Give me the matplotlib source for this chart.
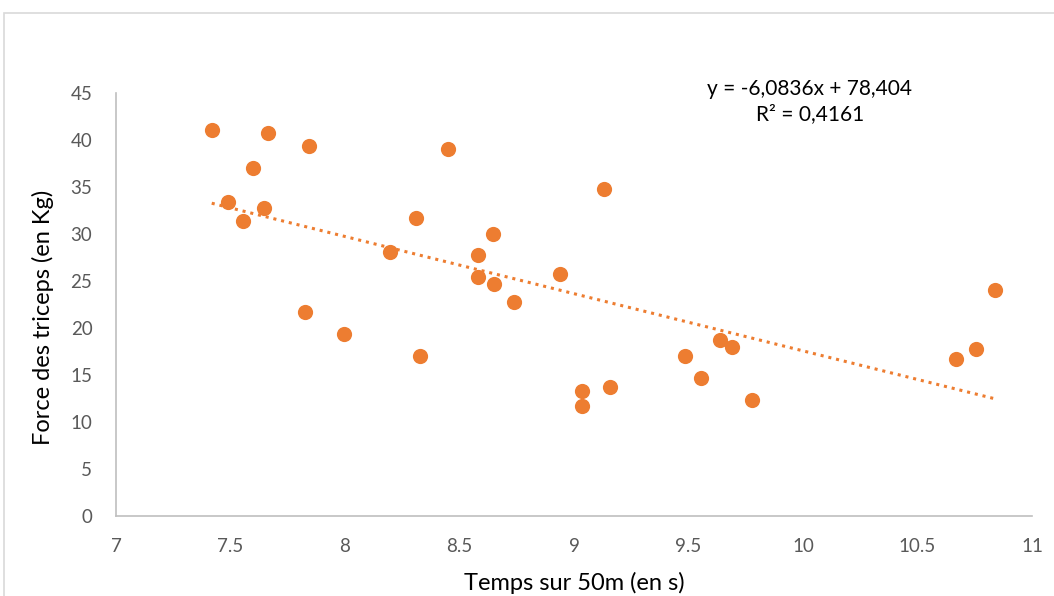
import numpy as np
import matplotlib
matplotlib.use("Agg")
import matplotlib.pyplot as plt
from matplotlib.patches import Rectangle

#Temps sur 50m (s) and force des triceps (kg)
temps = [7.418, 7.662, 7.841, 7.597, 7.490, 7.648, 7.555, 8.451, 8.311, 8.648,
         8.195, 8.581, 8.939, 8.581, 8.652, 8.739, 7.825, 7.994, 8.329, 9.133,
         9.033, 9.033, 9.159, 9.483, 9.553, 9.636, 9.690, 9.776, 10.667, 10.757,
         10.837]
force = [41.06, 40.70, 39.40, 37.05, 33.37, 32.77, 31.35, 39.04, 31.73, 30.03,
         28.05, 27.73, 25.71, 25.39, 24.68, 22.73, 21.70, 19.36, 17.02, 34.75,
         13.33, 11.67, 13.69, 17.02, 14.68, 18.72, 18.01, 12.34, 16.67, 17.73,
         24.04]

#Trendline coefficients as shown on the chart
slope = -6.0836
intercept = 78.404
r2 = 0.4161

xticks = [7, 7.5, 8, 8.5, 9, 9.5, 10, 10.5, 11]
xtick_labels = ['7', '7.5', '8', '8.5', '9', '9.5', '10', '10.5', '11']
yticks = [0, 5, 10, 15, 20, 25, 30, 35, 40, 45]

orange = '#ED7D31'
plt.rcParams['font.family'] = ['Lato', 'DejaVu Sans']

fig = plt.figure(figsize=(10.54, 5.96), dpi=100)
ax = fig.add_axes([116/1054, 1 - 516/596, (1032 - 116)/1054, (516 - 93)/596])

#Chart area border
fig.patches.append(Rectangle((4/1054, -0.05), 1.2, 1.05 - 13/596, transform=fig.transFigure,
                             fill=False, edgecolor='#D9D9D9', linewidth=1.2))

ax.scatter(temps, force, s=120, color=orange, zorder=3, linewidths=0)

#Linear trendline (dotted)
tx = np.array([min(temps), max(temps)])
ax.plot(tx, slope * tx + intercept, color=orange, linestyle=(0, (1, 1.6)),
        linewidth=2.2, zorder=2)

ax.set_xlim(7, 11)
ax.set_ylim(0, 45)
ax.set_xticks(xticks)
ax.set_xticklabels(xtick_labels)
ax.set_yticks(yticks)
ax.tick_params(axis='both', length=0, labelsize=13.5, labelcolor='#595959')
ax.tick_params(axis='x', pad=16)
ax.tick_params(axis='y', pad=17)

for side in ['top', 'right']:
    ax.spines[side].set_visible(False)
for side in ['left', 'bottom']:
    ax.spines[side].set_color('#BFBFBF')
    ax.spines[side].set_linewidth(1.2)

ax.set_xlabel('Temps sur 50m (en s)', fontsize=17, va='center')
ax.xaxis.set_label_coords(0.5, -67/423)
ax.set_ylabel('Force des triceps (en Kg)', fontsize=17, va='center')
ax.yaxis.set_label_coords(-73/916, 0.47)

ax.text(10.03, 44.1, 'y = -6,0836x + 78,404\nR² = 0,4161', ha='center', va='center',
        fontsize=15, linespacing=1.3)

fig.savefig('out.png', dpi=100)
